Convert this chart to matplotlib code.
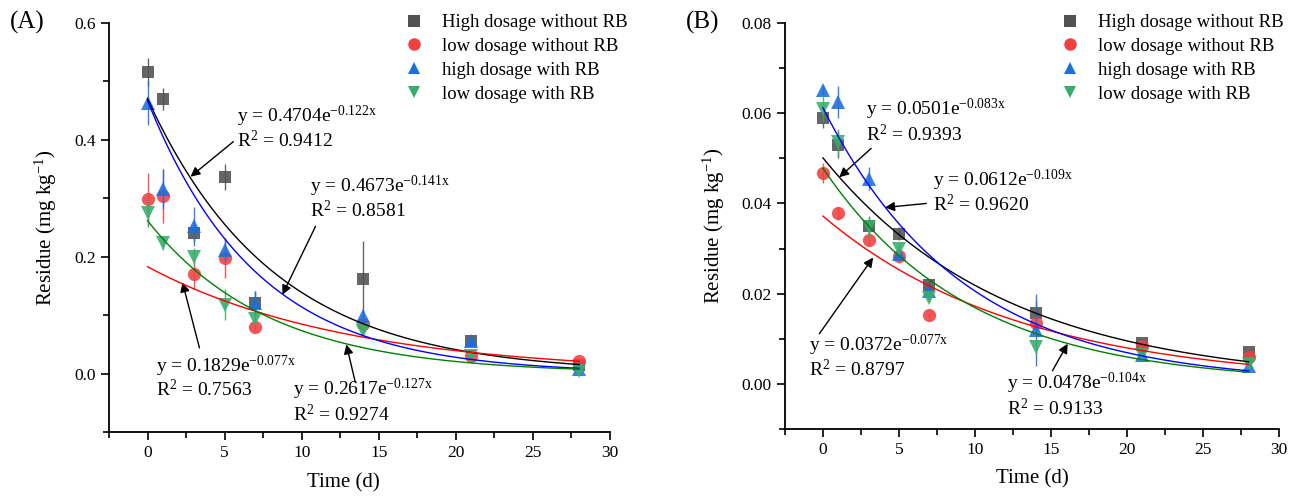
import numpy as np
import matplotlib
matplotlib.use('Agg')
import matplotlib.pyplot as plt
from matplotlib.lines import Line2D

plt.rcParams['font.family'] = ['Liberation Serif', 'DejaVu Serif']
plt.rcParams['mathtext.fontset'] = 'custom'
plt.rcParams['mathtext.rm'] = 'Liberation Serif'
plt.rcParams['mathtext.it'] = 'Liberation Serif:italic'

# ---------- data ----------
t = [0, 1, 3, 5, 7, 14, 21, 28]
labels = ['High dosage without RB', 'low dosage without RB',
          'high dosage with RB', 'low dosage with RB']

# panel A
a_hi_no = [0.516, 0.470, 0.241, 0.337, 0.121, 0.162, 0.055, 0.015]
a_hi_no_err = [0.024, 0.019, 0.015, 0.022, 0.021, 0.065, 0.005, 0.003]
a_lo_no = [0.298, 0.304, 0.171, 0.198, 0.079, 0.085, 0.030, 0.021]
a_lo_no_err = [0.045, 0.046, 0.026, 0.034, 0.004, 0.005, 0.004, 0.002]
a_hi_rb = [0.463, 0.316, 0.252, 0.212, 0.121, 0.098, 0.055, 0.008]
a_hi_rb_err = [0.038, 0.034, 0.033, 0.019, 0.021, 0.010, 0.004, 0.003]
a_lo_rb = [0.274, 0.224, 0.200, 0.118, 0.094, 0.073, 0.030, 0.005]
a_lo_rb_err = [0.023, 0.012, 0.015, 0.026, 0.008, 0.005, 0.003, 0.002]

# panel B
b_hi_no = [0.059, 0.053, 0.035, 0.0333, 0.022, 0.0158, 0.0091, 0.0071]
b_hi_no_err = [0.0022, 0.003, 0.002, 0.0015, 0.001, 0.0025, 0.0008, 0.0005]
b_lo_no = [0.0467, 0.0378, 0.032, 0.0284, 0.0152, 0.0135, 0.0084, 0.006]
b_lo_no_err = [0.0022, 0.0015, 0.0015, 0.0015, 0.0005, 0.001, 0.0008, 0.0008]
b_hi_rb = [0.0651, 0.0625, 0.0455, 0.0289, 0.0205, 0.012, 0.0065, 0.004]
b_hi_rb_err = [0.001, 0.0035, 0.0025, 0.0015, 0.0015, 0.008, 0.0008, 0.001]
b_lo_rb = [0.061, 0.0536, 0.0347, 0.030, 0.0191, 0.0082, 0.0064, 0.0045]
b_lo_rb_err = [0.003, 0.003, 0.0025, 0.0015, 0.0008, 0.0015, 0.0006, 0.0006]

# fitted first-order models: (C0, k, R2)
a_fits = [(0.4704, 0.122, '0.9412'), (0.1829, 0.077, '0.7563'),
          (0.4673, 0.141, '0.8581'), (0.2617, 0.127, '0.9274')]
b_fits = [(0.0501, 0.083, '0.9393'), (0.0372, 0.077, '0.8797'),
          (0.0612, 0.109, '0.9620'), (0.0478, 0.104, '0.9133')]

mk_colors = ['#515151', '#F14040', '#1A6FDF', '#37AD6B']
line_colors = ['black', 'red', 'blue', 'green']
markers = ['s', 'o', '^', 'v']
msizes = [9, 9.5, 10.5, 10.5]

# label placement: (text x, baseline1, baseline2, arrow tail, arrow tip)
a_notes = [(5.83, 0.431, 0.388, (5.57, 0.397), (2.79, 0.337)),
           (0.58, 0.003, -0.038, (3.37, 0.044), (2.27, 0.156)),
           (10.56, 0.311, 0.268, (10.9, 0.252), (8.75, 0.135)),
           (9.46, -0.036, -0.082, (13.48, -0.015), (12.9, 0.050))]
b_notes = [(2.84, 0.0596, 0.0538, (3.17, 0.0522), (1.07, 0.0458)),
           (-0.9, 0.0073, 0.0018, (-0.24, 0.0111), (3.3, 0.0280)),
           (7.25, 0.0438, 0.0382, (6.8, 0.0400), (4.09, 0.0391)),
           (12.13, -0.0011, -0.0069, (15.1, 0.0029), (16.1, 0.0089))]

fig = plt.figure(figsize=(13.05, 4.98), dpi=100)
axA = fig.add_axes([0.0835, 0.1325, 0.3839, 0.8213])
axB = fig.add_axes([0.6015, 0.1386, 0.3785, 0.8152])


def draw_panel(ax, series, errs, fits, notes, ylim, ystep, yfmt, leg_x):
    for i in range(4):
        ax.errorbar(t, series[i], yerr=errs[i], fmt=markers[i], color=mk_colors[i],
                    ecolor=mk_colors[i], elinewidth=1, capsize=4, capthick=1,
                    markersize=msizes[i], markeredgewidth=0, alpha=0.88, zorder=2 + i)
    xs = np.linspace(0, 28, 200)
    for i in range(4):
        c0, k, r2 = fits[i]
        ax.plot(xs, c0 * np.exp(-k * xs), color=line_colors[i], lw=1, zorder=8)
        tx, b1, b2, tail, tip = notes[i]
        ax.text(tx, b1, r'y = %.4fe$^{\mathregular{-%.3fx}}$' % (c0, k),
                fontsize=14, ha='left', va='baseline', zorder=10)
        ax.text(tx, b2, r'R$^{\mathregular{2}}$ = ' + r2,
                fontsize=14, ha='left', va='baseline', zorder=10)
        ax.annotate('', xy=tip, xytext=tail,
                    arrowprops=dict(arrowstyle='-|>', color='black', lw=1,
                                    shrinkA=0, shrinkB=0, mutation_scale=14))
    ax.set_xlim(-2.5, 30)
    ax.set_ylim(*ylim)
    ax.set_xticks(np.arange(0, 31, 5))
    ax.set_xticks(np.arange(-2.5, 30.1, 2.5), minor=True)
    ax.set_yticks(np.arange(0, ylim[1] + 1e-9, ystep))
    ax.set_yticks(np.arange(ylim[0], ylim[1] + 1e-9, ystep / 2), minor=True)
    ax.set_yticklabels([yfmt % v for v in np.arange(0, ylim[1] + 1e-9, ystep)])
    for s in ['top', 'right']:
        ax.spines[s].set_visible(False)
    for s in ['left', 'bottom']:
        ax.spines[s].set_linewidth(1.3)
    ax.tick_params(which='major', direction='out', length=6, width=1.2, labelsize=12.5)
    ax.tick_params(which='minor', direction='out', length=4, width=1.2)
    ax.set_xlabel('Time (d)', fontsize=15)
    ax.set_ylabel('Residue (mg kg$^{\\mathregular{-1}}$)', fontsize=15)
    handles = [Line2D([], [], ls='none', marker=markers[i], color=mk_colors[i],
                      markersize=9, markeredgewidth=0) for i in range(4)]
    ax.legend(handles, labels, loc='upper left', frameon=False, fontsize=13.5,
              bbox_to_anchor=(leg_x, 1 - 14 / 498), bbox_transform=fig.transFigure,
              borderpad=0, borderaxespad=0, handlelength=1.0, handletextpad=1.0,
              labelspacing=0.36)


draw_panel(axA, [a_hi_no, a_lo_no, a_hi_rb, a_lo_rb],
           [a_hi_no_err, a_lo_no_err, a_hi_rb_err, a_lo_rb_err],
           a_fits, a_notes, (-0.1, 0.6), 0.2, '%.1f', 405 / 1305)
draw_panel(axB, [b_hi_no, b_lo_no, b_hi_rb, b_lo_rb],
           [b_hi_no_err, b_lo_no_err, b_hi_rb_err, b_lo_rb_err],
           b_fits, b_notes, (-0.01, 0.08), 0.02, '%.2f', 1061 / 1305)

axA.xaxis.set_label_coords(0.467, -0.1)
axB.xaxis.set_label_coords(0.5, -0.1)
axA.yaxis.set_label_coords(-0.1, 0.5)
axB.yaxis.set_label_coords(-0.118, 0.5)

fig.text(10 / 1305, 1 - 22 / 498, '(A)', fontsize=18, ha='left', va='center')
fig.text(686 / 1305, 1 - 22 / 498, '(B)', fontsize=18, ha='left', va='center')

fig.savefig('out.png', dpi=100)
